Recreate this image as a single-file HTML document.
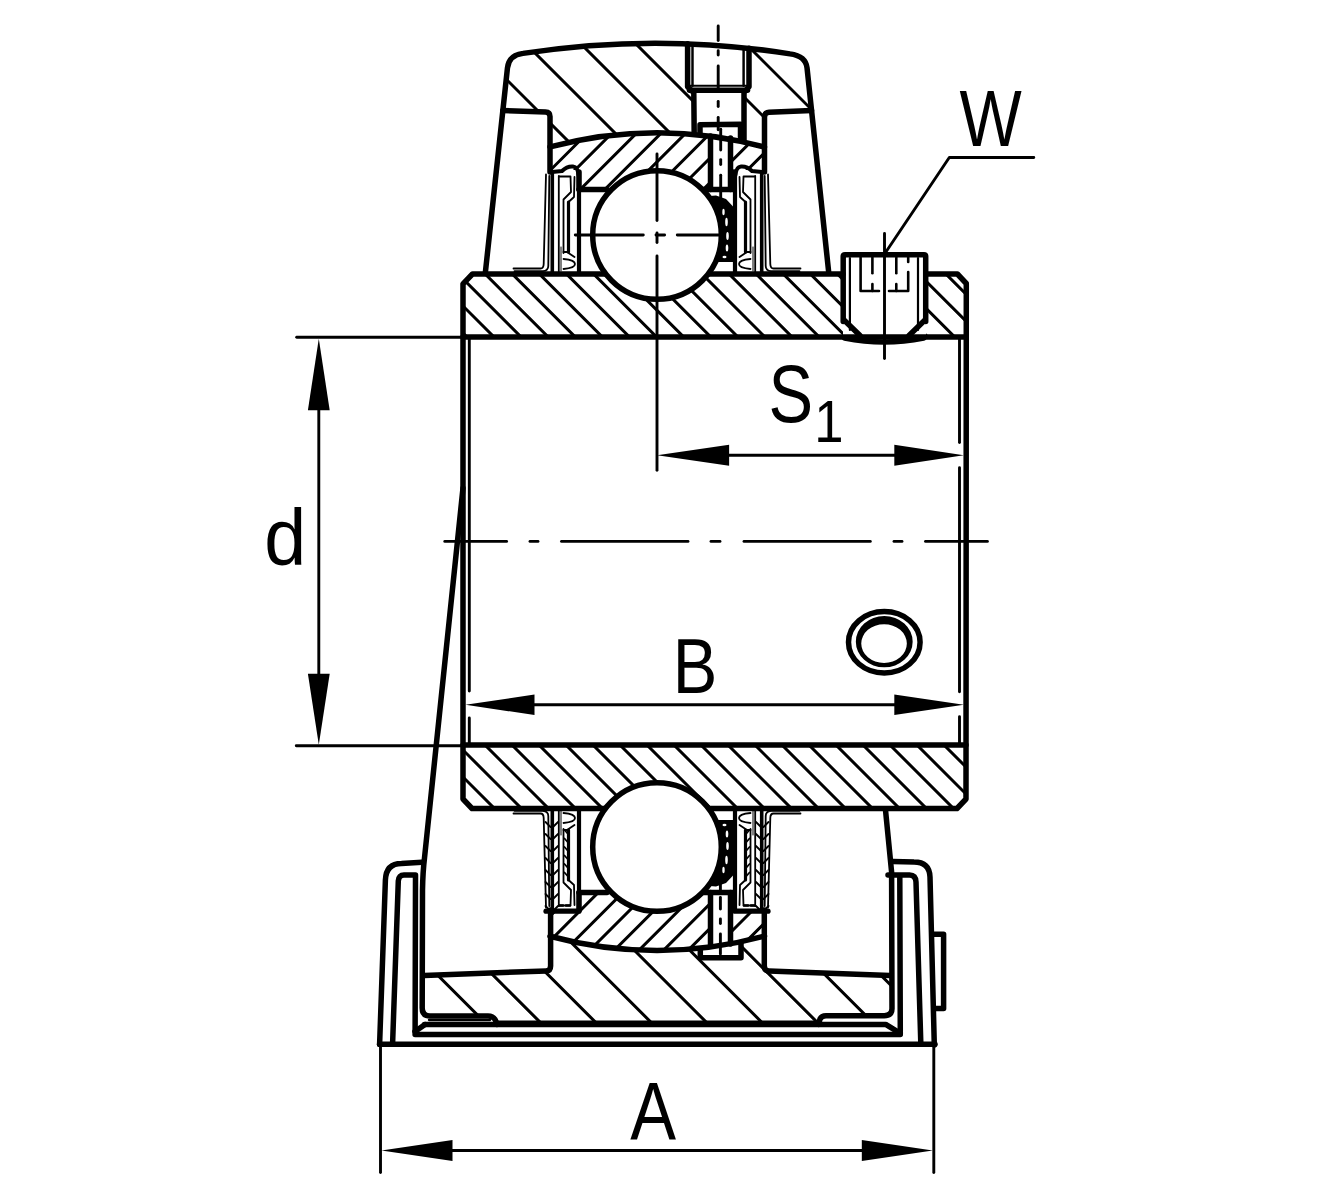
<!DOCTYPE html><html><head><meta charset="utf-8"><title>Bearing unit</title><style>html,body{margin:0;padding:0;background:#fff;width:1330px;height:1200px;overflow:hidden}svg{display:block}text{font-family:"Liberation Sans",sans-serif}</style></head><body><svg width="1330" height="1200" viewBox="0 0 1330 1200"><defs><clipPath id="hcap"><path d="M507.45 68 Q508.8 55.1 523 53.39 A860.0 860.0 0 0 1 790 53.86 Q805.8 55.9 807.05 68 L811.55 110.5 L764.5 112.4 L764.5 147.11 A408.3 408.3 0 0 0 550.0 146.97 L550.0 112 L502.86 110.5 Z"/></clipPath><clipPath id="hor1"><path d="M550.0 146.97 A408.3 408.3 0 0 1 764.5 147.11 L764.5 170 L734 170 L734 189.4 L579 189.4 L579 170 L550.0 170 Z"/></clipPath><clipPath id="hor2"><path d="M550.0 936.23 A408.3 408.3 0 0 0 764.5 936.09 L764.5 912 L734 912 L734 892.6 L579 892.6 L579 912 L550.0 912 Z"/></clipPath><clipPath id="hir1"><path d="M463 283.8 L472.5 274 L957.4 274 L966.3 283.5 L966 337 L463 337 Z"/></clipPath><clipPath id="hir2"><path d="M463 745 L966 745 L966 799 L957 808.5 L472 808.5 L463 799 Z"/></clipPath><clipPath id="hlh"><path d="M424.2 975.4 L550.0 971 L550.0 936.23 A408.3 408.3 0 0 0 764.5 936.09 L764.5 971 L890 975.5 L892 1008.6 L885 1015.7 L823 1015.7 L818.6 1023 L497 1023 L489.5 1015.8 L430 1015.8 L422.5 1007 Z"/></clipPath></defs><rect width="1330" height="1200" fill="#fff"/><g stroke="#000" stroke-linecap="round" stroke-linejoin="round" fill="none"><path clip-path="url(#hcap)" d="M407 35L522 150M462 35L577 150M517 35L632 150M572 35L687 150M627 35L742 150M682 35L797 150M737 35L852 150M792 35L907 150" stroke-width="3.0" fill="none"/><path clip-path="url(#hor1)" d="M546.3 125L476.3 195M570.9 125L500.9 195M595.5 125L525.5 195M620.1 125L550.1 195M644.7 125L574.7 195M669.3 125L599.3 195M693.9 125L623.9 195M718.5 125L648.5 195M743.1 125L673.1 195M767.7 125L697.7 195M792.3 125L722.3 195M816.9 125L746.9 195" stroke-width="3.0" fill="none"/><path clip-path="url(#hor2)" d="M556.6 885L481.6 960M581.2 885L506.2 960M605.8 885L530.8 960M630.4 885L555.4 960M655 885L580 960M679.6 885L604.6 960M704.2 885L629.2 960M728.8 885L653.8 960M753.4 885L678.4 960M778 885L703 960M802.6 885L727.6 960M827.2 885L752.2 960" stroke-width="3.0" fill="none"/><path clip-path="url(#hir1)" d="M399.9 270L469.9 340M427 270L497 340M454.1 270L524.1 340M481.2 270L551.2 340M508.3 270L578.3 340M535.4 270L605.4 340M562.5 270L632.5 340M589.6 270L659.6 340M616.7 270L686.7 340M643.8 270L713.8 340M670.9 270L740.9 340M698 270L768 340M725.1 270L795.1 340M752.2 270L822.2 340M779.3 270L849.3 340M806.4 270L876.4 340M833.5 270L903.5 340M860.6 270L930.6 340M887.7 270L957.7 340M914.8 270L984.8 340M941.9 270L1011.9 340M969 270L1039 340" stroke-width="3.0" fill="none"/><path clip-path="url(#hir2)" d="M401 742L471 812M428 742L498 812M455 742L525 812M482 742L552 812M509 742L579 812M536 742L606 812M563 742L633 812M590 742L660 812M617 742L687 812M644 742L714 812M671 742L741 812M698 742L768 812M725 742L795 812M752 742L822 812M779 742L849 812M806 742L876 812M833 742L903 812M860 742L930 812M887 742L957 812M914 742L984 812M941 742L1011 812M968 742L1038 812" stroke-width="3.0" fill="none"/><path clip-path="url(#hlh)" d="M337.1 930L432.1 1025M392.5 930L487.5 1025M447.9 930L542.9 1025M503.3 930L598.3 1025M558.7 930L653.7 1025M614.1 930L709.1 1025M669.5 930L764.5 1025M724.9 930L819.9 1025M780.3 930L875.3 1025M835.7 930L930.7 1025M891.1 930L986.1 1025" stroke-width="3.0" fill="none"/><path d="M688 40 L749 40 L749 89 L744 92 L744 141.08 L693.5 133.33 L693.5 92 L688 89 Z" fill="#fff" stroke="none"/><path d="M710.5 130 L730.5 130 L730.5 188 L710.5 188 Z" fill="#fff" stroke="none"/><path d="M700.3 958.5 L741 958.5 L741 940 L700.3 940 Z" fill="#fff" stroke="none"/><path d="M710.5 894 L730.5 894 L730.5 952 L710.5 952 Z" fill="#fff" stroke="none"/><path d="M843 254.7 L926 254.7 L926 338 L843 338 Z" fill="#fff" stroke="none"/><path d="M485.31 273 L507.45 68 Q508.8 55.1 523 53.39 A860.0 860.0 0 0 1 790 53.86 Q805.8 55.9 807.05 68 L828.78 273" stroke-width="5.5" fill="none" /><path d="M502.86 110.5 L545.5 112 Q550.0 112.2 550.0 116.5 L550.0 172" stroke-width="5.5" fill="none" /><path d="M811.55 110.5 L769 112.3 Q764.5 112.5 764.5 117 L764.5 172" stroke-width="5.5" fill="none" /><path d="M550.0 146.97 A408.3 408.3 0 0 1 764.5 147.11" stroke-width="5.5" fill="none" /><path d="M550.0 936.23 A408.3 408.3 0 0 0 764.5 936.09" stroke-width="5.5" fill="none" /><path d="M579 189.4 L607 189.4" stroke-width="5.5" fill="none" /><path d="M704 189.4 L734 189.4 L734 172" stroke-width="5.5" fill="none" /><path d="M579 172 L579 189.4" stroke-width="5.5" fill="none" /><path d="M579 892.6 L607 892.6" stroke-width="5.5" fill="none" /><path d="M704 892.6 L734 892.6 L734 910" stroke-width="5.5" fill="none" /><path d="M579 910 L579 892.6" stroke-width="5.5" fill="none" /><path d="M687.6 43.82 L687.6 86.7 L693.8 92.8 L694.2 134" stroke-width="5.5" fill="none" /><path d="M749 48.35 L749 86.7 L744 92.5 L744 140" stroke-width="5.5" fill="none" /><path d="M689.5 90.2 L747.5 90.2" stroke-width="5.5" fill="none" /><path d="M700 134 L700 124.8 L740.5 124.3 L740.5 137" stroke-width="5.5" fill="none" /><line x1="692.5" y1="46.02" x2="692.5" y2="85.8" stroke-width="2.465" /><line x1="743.6" y1="49.78" x2="743.6" y2="85.8" stroke-width="2.465" /><line x1="690" y1="85.8" x2="747" y2="85.8" stroke-width="2.03" /><path d="M710.5 136 L710.5 189.4" stroke-width="5.5" fill="none" /><path d="M730.5 138 L730.5 189.4" stroke-width="5.5" fill="none" /><path d="M710.5 946 L710.5 892.6" stroke-width="5.5" fill="none" /><path d="M730.5 944 L730.5 892.6" stroke-width="5.5" fill="none" /><path d="M700.3 950 L700.3 957.7 L741 957.7 L741 943.5" stroke-width="5.5" fill="none" /><path d="M843 274 L472.5 274 L463 283.8 L463 799 L472 808.5 L957 808.5 L966 799 L966.3 283.5 L957.4 274 L926 274" stroke-width="5.5" fill="none" /><path d="M463 337 L966 337" stroke-width="5.5" fill="none" /><path d="M463 745 L966 745" stroke-width="5.5" fill="none" /><circle cx="657.0" cy="235" r="64.3" fill="#fff" stroke-width="5.5"/><circle cx="657.0" cy="847" r="64.3" fill="#fff" stroke-width="5.5"/><line x1="469.3" y1="338" x2="469.3" y2="691" stroke-width="2.9" /><line x1="469.3" y1="718" x2="469.3" y2="744" stroke-width="2.9" /><line x1="959.5" y1="338" x2="959.5" y2="442.6" stroke-width="2.9" /><line x1="959.5" y1="467.6" x2="959.5" y2="691.8" stroke-width="2.9" /><line x1="959.5" y1="716.8" x2="959.5" y2="744" stroke-width="2.9" /><path d="M463 488 L424.5 858 Q422.8 872 422.5 890 L422.2 1008 Q422.2 1016 430 1016 L488 1016 Q494 1016 496 1021.5 L497 1024.4" stroke-width="5.5" fill="none" /><path d="M818.6 1024.4 L820 1019 Q821.5 1015.7 826 1015.7 L884.3 1015.7 Q892 1015.7 892 1008.6 L891.6 872 L885.5 810" stroke-width="5.5" fill="none" /><path d="M424.5 1024.4 L885.7 1024.4 L897.1 1031.4" stroke-width="5.5" fill="none" /><path d="M497 1023.2 L819 1023.2" stroke-width="5.5" fill="none" /><path d="M415 1031.5 L425 1024.6" stroke-width="5.5" fill="none" /><path d="M424.2 975.4 L546 971 Q550.6 971 550.6 966 L550.6 910" stroke-width="5.5" fill="none" /><path d="M764.3 910 L764.3 966 Q764.3 971 769 971 L890 975.5" stroke-width="5.5" fill="none" /><path d="M379.6 1044.3 L385.4 880 Q386 863.4 401.5 863.4 L422 862.2" stroke-width="5.5" fill="none" /><path d="M392.6 1043.5 L398.3 881 Q398.8 875 404 875 L415.5 875 L415.1 1034.4 L900.3 1034.4 L899.8 877" stroke-width="5.5" fill="none" /><path d="M888 875 L909.5 875 Q915.8 875.2 916 882 L920.8 1043" stroke-width="5.5" fill="none" /><path d="M934.3 1045 L930 877 Q929.5 862 914 862 L893 861.5" stroke-width="5.5" fill="none" /><path d="M379.6 1044.3 L935 1044.3" stroke-width="5.5" fill="none" /><line x1="429" y1="1020" x2="490" y2="1020" stroke-width="2.32" /><path d="M934 934.3 L943.6 934.3 L943.6 1008.6 L934 1008.6" stroke-width="5.5" fill="none" /><path d="M843.2 321.4 L843.2 256.5 Q843.2 254.7 845 254.7 L924 254.7 Q925.7 254.7 925.7 256.5 L925.7 321.4" stroke-width="5.5" fill="none" /><path d="M844 320 L860 335.4 M925 320 L909 335.4" stroke-width="5.5" fill="none" /><path d="M844.7 338 Q884 346 923.6 338" stroke-width="5.5" fill="none" /><line x1="849.9" y1="258" x2="849.9" y2="330" stroke-width="2.2" /><line x1="918" y1="258" x2="918" y2="330" stroke-width="2.2" /><path d="M860.6 257.5 L860.6 291 L879 291" stroke-width="2.6" fill="none" /><path d="M889 291 L908.2 291 L908.2 272" stroke-width="2.6" fill="none" /><line x1="908.2" y1="257.5" x2="908.2" y2="262" stroke-width="2.6" /><line x1="872.4" y1="257.5" x2="872.4" y2="273.3" stroke-width="2.6" /><line x1="872.4" y1="284" x2="872.4" y2="291" stroke-width="2.6" /><line x1="896.3" y1="257.5" x2="896.3" y2="273.3" stroke-width="2.6" /><line x1="896.3" y1="284" x2="896.3" y2="291" stroke-width="2.6" /><line x1="884.5" y1="233.4" x2="884.5" y2="358.6" stroke-width="2.9" /><ellipse cx="884.3" cy="642.3" rx="35.8" ry="30.7" fill="none" stroke-width="5.5"/><path d="M855.85 641.65A28.4 25.7 0 1 0 912.65 641.65A28.4 25.7 0 1 0 855.85 641.65ZM861.25 643.6A22.8 19.4 0 1 0 906.85 643.6A22.8 19.4 0 1 0 861.25 643.6Z" fill="#000" fill-rule="evenodd" stroke="none"/><g><path d="M513.5 268.5 L540.5 268.5 Q543.6 268.5 543.7 264 L546 174.5" stroke-width="1.8" fill="none"/><path d="M514.5 271.2 L543 271.2 Q548.2 270.8 548.3 266 L549.3 176" stroke-width="1.8" fill="none"/><path d="M552.3 172 L552.3 271.5" stroke-width="3.6" fill="none"/><path d="M558.8 176 L558.8 271.5" stroke-width="1.8" fill="none"/><path d="M559.5 176.5 L570.5 176.5 L571 192 L563.5 199.5 L563.5 253" stroke-width="1.8" fill="none"/><path d="M568.5 202 L574 197 L574.5 177" stroke-width="1.8" fill="none"/><path d="M568.5 202 L568.5 252" stroke-width="3.2" fill="none"/><path d="M579 172 L579 271.5" stroke-width="4.2" fill="none"/><path d="M574.5 257 L567 252 L563.5 252 M563.5 259 Q575 260 575 264 Q575 268 563.5 269" stroke-width="1.8" fill="none"/><path d="M561 247 L561 271" stroke-width="1.0" fill="none"/><path d="M552 172 L562 171 Q567 166 573 166.5 Q578 167 578.5 175" stroke-width="4" fill="none"/></g><g transform="translate(1314.0 0) scale(-1 1)"><path d="M513.5 268.5 L540.5 268.5 Q543.6 268.5 543.7 264 L546 174.5" stroke-width="1.8" fill="none"/><path d="M514.5 271.2 L543 271.2 Q548.2 270.8 548.3 266 L549.3 176" stroke-width="1.8" fill="none"/><path d="M552.3 172 L552.3 271.5" stroke-width="3.6" fill="none"/><path d="M558.8 176 L558.8 271.5" stroke-width="1.8" fill="none"/><path d="M559.5 176.5 L570.5 176.5 L571 192 L563.5 199.5 L563.5 253" stroke-width="1.8" fill="none"/><path d="M568.5 202 L574 197 L574.5 177" stroke-width="1.8" fill="none"/><path d="M568.5 202 L568.5 252" stroke-width="3.2" fill="none"/><path d="M579 172 L579 271.5" stroke-width="4.2" fill="none"/><path d="M574.5 257 L567 252 L563.5 252 M563.5 259 Q575 260 575 264 Q575 268 563.5 269" stroke-width="1.8" fill="none"/><path d="M561 247 L561 271" stroke-width="1.0" fill="none"/><path d="M552 172 L562 171 Q567 166 573 166.5 Q578 167 578.5 175" stroke-width="4" fill="none"/></g><g transform="translate(0 1082.0) scale(1 -1)"><path d="M513.5 268.5 L540.5 268.5 Q543.6 268.5 543.7 264 L546 174.5" stroke-width="1.8" fill="none"/><path d="M514.5 271.2 L543 271.2 Q548.2 270.8 548.3 266 L549.3 176" stroke-width="1.8" fill="none"/><path d="M552.3 172 L552.3 271.5" stroke-width="3.6" fill="none"/><path d="M558.8 176 L558.8 271.5" stroke-width="1.8" fill="none"/><path d="M559.5 176.5 L570.5 176.5 L571 192 L563.5 199.5 L563.5 253" stroke-width="1.8" fill="none"/><path d="M568.5 202 L574 197 L574.5 177" stroke-width="1.8" fill="none"/><path d="M568.5 202 L568.5 252" stroke-width="3.2" fill="none"/><path d="M579 172 L579 271.5" stroke-width="4.2" fill="none"/><path d="M574.5 257 L567 252 L563.5 252 M563.5 259 Q575 260 575 264 Q575 268 563.5 269" stroke-width="1.8" fill="none"/><path d="M561 247 L561 271" stroke-width="1.0" fill="none"/><path d="M546 170.8 L579 170.8" stroke-width="5.2" fill="none"/><path d="M559 176.5 L572 176.5" stroke-width="2.4" fill="none" stroke-dasharray="4 3"/></g><g transform="translate(1314.0 1082.0) scale(-1 -1)"><path d="M513.5 268.5 L540.5 268.5 Q543.6 268.5 543.7 264 L546 174.5" stroke-width="1.8" fill="none"/><path d="M514.5 271.2 L543 271.2 Q548.2 270.8 548.3 266 L549.3 176" stroke-width="1.8" fill="none"/><path d="M552.3 172 L552.3 271.5" stroke-width="3.6" fill="none"/><path d="M558.8 176 L558.8 271.5" stroke-width="1.8" fill="none"/><path d="M559.5 176.5 L570.5 176.5 L571 192 L563.5 199.5 L563.5 253" stroke-width="1.8" fill="none"/><path d="M568.5 202 L574 197 L574.5 177" stroke-width="1.8" fill="none"/><path d="M568.5 202 L568.5 252" stroke-width="3.2" fill="none"/><path d="M579 172 L579 271.5" stroke-width="4.2" fill="none"/><path d="M574.5 257 L567 252 L563.5 252 M563.5 259 Q575 260 575 264 Q575 268 563.5 269" stroke-width="1.8" fill="none"/><path d="M561 247 L561 271" stroke-width="1.0" fill="none"/><path d="M546 170.8 L579 170.8" stroke-width="5.2" fill="none"/><path d="M559 176.5 L572 176.5" stroke-width="2.4" fill="none" stroke-dasharray="4 3"/></g><path d="M709.99 196 L713.1 200.71 L715.67 205.43 L717.79 210.14 L719.48 214.86 L720.79 219.57 L721.73 224.29 L722.33 229 L722.59 233.71 L722.51 238.43 L722.1 243.14 L721.35 247.86 L720.24 252.57 L718.76 257.29 L716.88 262 L733.5 262 L733.5 207 L726 199 L716 195.5Z" fill="#000" stroke="none"/><ellipse cx="723.5" cy="212" rx="1.2" ry="3.2" fill="#fff" stroke="none"/><ellipse cx="726.5" cy="222" rx="1.3" ry="4.2" fill="#fff" stroke="none"/><ellipse cx="727.5" cy="236" rx="1.3" ry="4.0" fill="#fff" stroke="none"/><ellipse cx="727" cy="248" rx="1.3" ry="3.5" fill="#fff" stroke="none"/><ellipse cx="724.5" cy="257" rx="2.0" ry="1.3" fill="#fff" stroke="none"/><path d="M709.99 886 L713.1 881.29 L715.67 876.57 L717.79 871.86 L719.48 867.14 L720.79 862.43 L721.73 857.71 L722.33 853 L722.59 848.29 L722.51 843.57 L722.1 838.86 L721.35 834.14 L720.24 829.43 L718.76 824.71 L716.88 820 L733.5 820 L733.5 875 L726 883 L716 886.5Z" fill="#000" stroke="none"/><ellipse cx="723.5" cy="870" rx="1.2" ry="3.2" fill="#fff" stroke="none"/><ellipse cx="726.5" cy="860" rx="1.3" ry="4.2" fill="#fff" stroke="none"/><ellipse cx="727.5" cy="846" rx="1.3" ry="4.0" fill="#fff" stroke="none"/><ellipse cx="727" cy="834" rx="1.3" ry="3.5" fill="#fff" stroke="none"/><ellipse cx="724.5" cy="825" rx="2.0" ry="1.3" fill="#fff" stroke="none"/><path d="M545.5 822L550.5 827M553 827L558 822M545.5 834L550.5 839M553 839L558 834M545.5 846L550.5 851M553 851L558 846M545.5 858L550.5 863M553 863L558 858M545.5 870L550.5 875M553 875L558 870M545.5 882L550.5 887M553 887L558 882M545.5 894L550.5 899M553 899L558 894M545.5 906L550.5 911M553 911L558 906M564.5 830L568 834M564.5 838.5L568 842.5M564.5 847L568 851M564.5 855.5L568 859.5M564.5 864L568 868M564.5 872.5L568 876.5" stroke-width="1.8" fill="none"/><path d="M768.5 822L763.5 827M761 827L756 822M768.5 834L763.5 839M761 839L756 834M768.5 846L763.5 851M761 851L756 846M768.5 858L763.5 863M761 863L756 858M768.5 870L763.5 875M761 875L756 870M768.5 882L763.5 887M761 887L756 882M768.5 894L763.5 899M761 899L756 894M768.5 906L763.5 911M761 911L756 906M749.5 830L746 834M749.5 838.5L746 842.5M749.5 847L746 851M749.5 855.5L746 859.5M749.5 864L746 868M749.5 872.5L746 876.5" stroke-width="1.8" fill="none"/><line x1="444.8" y1="541.4" x2="506.6" y2="541.4" stroke-width="2.9" /><line x1="530" y1="541.4" x2="538" y2="541.4" stroke-width="2.9" /><line x1="561.5" y1="541.4" x2="688" y2="541.4" stroke-width="2.9" /><line x1="711" y1="541.4" x2="720" y2="541.4" stroke-width="2.9" /><line x1="744" y1="541.4" x2="870.3" y2="541.4" stroke-width="2.9" /><line x1="894" y1="541.4" x2="902" y2="541.4" stroke-width="2.9" /><line x1="925.5" y1="541.4" x2="987.4" y2="541.4" stroke-width="2.9" /><line x1="575.3" y1="235" x2="643.3" y2="235" stroke-width="2.9" /><line x1="656" y1="235" x2="664.6" y2="235" stroke-width="2.9" /><line x1="677.3" y1="235" x2="719" y2="235" stroke-width="2.9" /><line x1="657" y1="154" x2="657" y2="220.5" stroke-width="2.9" /><line x1="657" y1="233" x2="657" y2="242.5" stroke-width="2.9" /><line x1="657" y1="256" x2="657" y2="470.3" stroke-width="2.9" /><line x1="718.2" y1="26" x2="718.2" y2="40.5" stroke-width="2.9" /><line x1="718.2" y1="50.7" x2="718.2" y2="55.1" stroke-width="2.9" /><line x1="718.2" y1="66" x2="718.2" y2="88" stroke-width="2.9" /><line x1="718.2" y1="101.5" x2="718.2" y2="106.5" stroke-width="2.9" /><line x1="718.2" y1="117.4" x2="718.2" y2="129.8" stroke-width="2.9" /><line x1="720.7" y1="129.3" x2="720.7" y2="150" stroke-width="2.9" /><line x1="720.7" y1="159.6" x2="720.7" y2="164.5" stroke-width="2.9" /><line x1="720.7" y1="175.3" x2="720.7" y2="201.3" stroke-width="2.9" /><line x1="720.4" y1="882.5" x2="720.4" y2="891" stroke-width="2.9" /><line x1="720.4" y1="897.5" x2="720.4" y2="909" stroke-width="2.9" /><line x1="720.4" y1="919" x2="720.4" y2="923.5" stroke-width="2.9" /><line x1="720.4" y1="934" x2="720.4" y2="954" stroke-width="2.9" /><line x1="296.7" y1="337.3" x2="462" y2="337.3" stroke-width="2.9" /><line x1="296.3" y1="745.8" x2="462" y2="745.8" stroke-width="2.9" /><line x1="318.8" y1="405" x2="318.8" y2="678" stroke-width="2.9" /><path d="M318.8 338.8L329.7 410.3L307.9 410.3Z" fill="#000" stroke="none"/><path d="M318.8 744.7L307.9 673.7L329.7 673.7Z" fill="#000" stroke="none"/><line x1="530" y1="704.8" x2="900" y2="704.8" stroke-width="2.9" /><path d="M465.5 704.8L534.5 694.6L534.5 715Z" fill="#000" stroke="none"/><path d="M963.8 704.8L894.3 715L894.3 694.6Z" fill="#000" stroke="none"/><line x1="725" y1="455.2" x2="900" y2="455.2" stroke-width="2.9" /><path d="M657.1 455.2L729.1 444.7L729.1 465.7Z" fill="#000" stroke="none"/><path d="M963.8 455.2L894.3 465.7L894.3 444.7Z" fill="#000" stroke="none"/><line x1="380.5" y1="1046" x2="380.5" y2="1172.6" stroke-width="2.9" /><line x1="933.8" y1="1046" x2="933.8" y2="1172.6" stroke-width="2.9" /><line x1="450" y1="1150.5" x2="865" y2="1150.5" stroke-width="2.9" /><path d="M381.5 1150.5L452.5 1140.1L452.5 1160.9Z" fill="#000" stroke="none"/><path d="M932.8 1150.5L861.8 1160.9L861.8 1140.1Z" fill="#000" stroke="none"/><path d="M886.4 251.2 L949.3 157.5 L1033.8 157.5" stroke-width="2.9" fill="none" /></g><g fill="#000" font-family="Liberation Sans, sans-serif"><text x="0" y="0" font-size="79.0" transform="translate(959.5 146) scale(0.835 1)">W</text><text x="0" y="0" font-size="80.8" transform="translate(768.5 422.1) scale(0.827 1)">S</text><text x="0" y="0" font-size="58.9" transform="translate(814.3 441.5) scale(0.893 1)">1</text><text x="0" y="0" font-size="79.4" transform="translate(264.3 564.8) scale(0.95 1)">d</text><text x="0" y="0" font-size="78.3" transform="translate(672.8 692.6) scale(0.853 1)">B</text><text x="0" y="0" font-size="81.2" transform="translate(630.2 1139.4) scale(0.846 1)">A</text></g></svg></body></html>
